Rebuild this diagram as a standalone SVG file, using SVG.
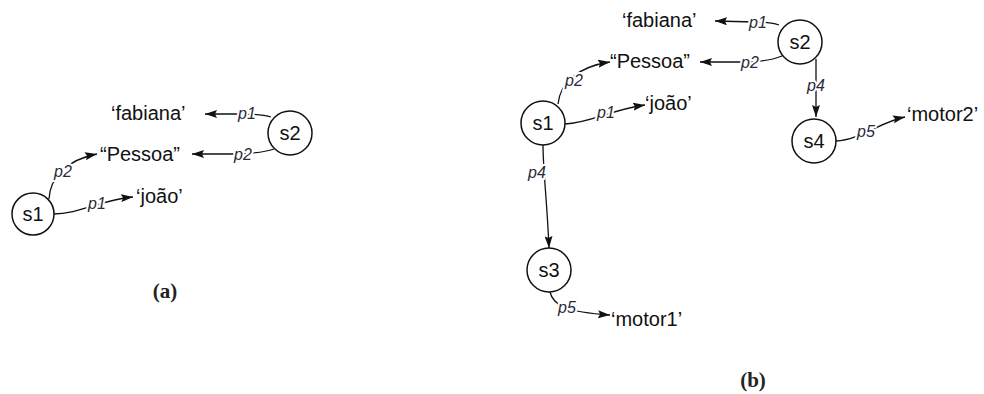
<svg xmlns="http://www.w3.org/2000/svg" width="984" height="394" viewBox="0 0 984 394">
  <defs>
    <marker id="arrow" markerUnits="userSpaceOnUse" markerWidth="12" markerHeight="8" refX="12" refY="4" orient="auto">
      <path d="M0,0 L12,4 L0,8 L2,4 z" fill="#111"/>
    </marker>
  </defs>
  <style>
    .node circle { fill: #fff; stroke: #111; stroke-width: 1.5; }
    .node text, .lit { font-family: "Liberation Sans", Arial, sans-serif; font-size: 20px; fill: #111; }
    .node text { text-anchor: middle; }
    .edge { fill: none; stroke: #111; stroke-width: 1.3; marker-end: url(#arrow); }
    .lbl { font-family: "Liberation Sans", Arial, sans-serif; font-style: italic; font-size: 16px; fill: #2a2a3a; text-anchor: middle;
           stroke: #fff; stroke-width: 4; paint-order: stroke; }
    .cap { font-family: "Liberation Serif", "Times New Roman", serif; font-weight: bold; font-size: 21px; fill: #222; text-anchor: middle; }
  </style>

  <!-- connectors -->
  <g id="connectors">
    <!-- panel a -->
    <path class="edge" d="M271,117 Q262,114 240,114 L205,114"/>
    <path class="edge" d="M274,149 Q262,153 240,154 L192,154"/>
    <path class="edge" d="M49,199 C50,178 66,160 97,154"/>
    <path class="edge" d="M53,214 C80,214 100,200 133,197"/>
    <!-- panel b -->
    <path class="edge" d="M779,25 Q770,22 755,22 L715,21"/>
    <path class="edge" d="M782,56 Q770,61 750,62 L700,62"/>
    <path class="edge" d="M558,104 C560,84 576,67 610,62"/>
    <path class="edge" d="M565,124 C590,123 610,110 645,105"/>
    <path class="edge" d="M543,145 C543,170 547,200 549,248"/>
    <path class="edge" d="M816,59 L816,117"/>
    <path class="edge" d="M836,141 C860,140 880,122 905,117"/>
    <path class="edge" d="M550,292 C553,305 565,312 610,315"/>

    <!-- edge labels -->
    <text class="lbl" x="247" y="119">p1</text>
    <text class="lbl" x="243" y="160">p2</text>
    <text class="lbl" x="63" y="177">p2</text>
    <text class="lbl" x="97" y="209">p1</text>
    <text class="lbl" x="758" y="28">p1</text>
    <text class="lbl" x="750" y="68">p2</text>
    <text class="lbl" x="574" y="86">p2</text>
    <text class="lbl" x="606" y="118">p1</text>
    <text class="lbl" x="537" y="178">p4</text>
    <text class="lbl" x="816" y="91">p4</text>
    <text class="lbl" x="866" y="137">p5</text>
    <text class="lbl" x="567" y="313">p5</text>
  </g>

  <!-- panel (a) nodes -->
  <g id="a-s1" class="node"><circle cx="33" cy="214" r="21"/><text x="33" y="221">s1</text></g>
  <g id="a-s2" class="node"><circle cx="290" cy="133" r="22"/><text x="290" y="140">s2</text></g>
  <g id="a-fabiana"><text class="lit" x="111" y="120">‘fabiana’</text></g>
  <g id="a-pessoa"><text class="lit" x="100" y="161">“Pessoa”</text></g>
  <g id="a-joao"><text class="lit" x="136" y="203">‘joão’</text></g>
  <text class="cap" x="165" y="298">(a)</text>

  <!-- panel (b) nodes -->
  <g id="b-s1" class="node"><circle cx="543" cy="123" r="22"/><text x="543" y="130">s1</text></g>
  <g id="b-s2" class="node"><circle cx="800" cy="42" r="22"/><text x="800" y="49">s2</text></g>
  <g id="b-s3" class="node"><circle cx="549" cy="270" r="22"/><text x="549" y="277">s3</text></g>
  <g id="b-s4" class="node"><circle cx="814" cy="141" r="22"/><text x="814" y="148">s4</text></g>
  <g id="b-fabiana"><text class="lit" x="622" y="27">‘fabiana’</text></g>
  <g id="b-pessoa"><text class="lit" x="610" y="68">“Pessoa”</text></g>
  <g id="b-joao"><text class="lit" x="645" y="110">‘joão’</text></g>
  <g id="b-motor2"><text class="lit" x="907" y="121">‘motor2’</text></g>
  <g id="b-motor1"><text class="lit" x="611" y="326">‘motor1’</text></g>
  <text class="cap" x="753" y="387">(b)</text>
</svg>
